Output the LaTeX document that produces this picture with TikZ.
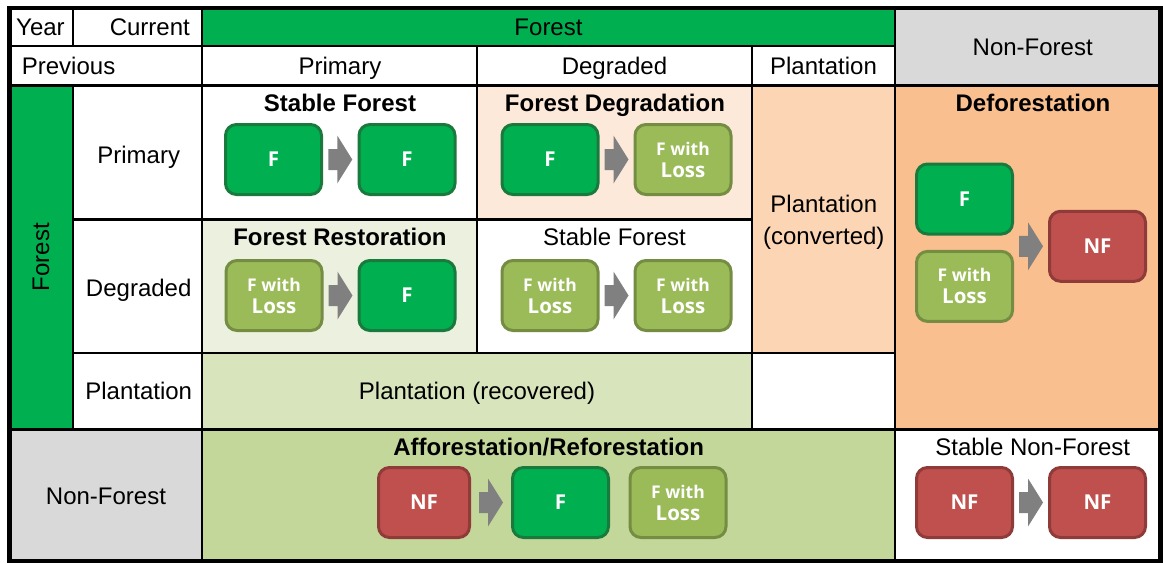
\documentclass[tikz,border=0pt]{standalone}
\usepackage{fontspec}
\setmainfont{Liberation Sans}
\newfontfamily\boxfont{Open Sans}
\usetikzlibrary{calc}
\definecolor{fgreen}{HTML}{00B050}
\definecolor{fgreendark}{HTML}{1A7A3E}
\definecolor{lossgreen}{HTML}{9BBB59}
\definecolor{lossgreendark}{HTML}{748D42}
\definecolor{nfred}{HTML}{C0504D}
\definecolor{nfreddark}{HTML}{8E3B39}
\definecolor{arrowgrey}{HTML}{808080}
\definecolor{headgrey}{HTML}{D9D9D9}
\definecolor{peachA}{HTML}{FDE9D9}
\definecolor{peachB}{HTML}{FCD5B4}
\definecolor{peachC}{HTML}{FABF8F}
\definecolor{oliveA}{HTML}{EBF1DE}
\definecolor{oliveB}{HTML}{D8E4BC}
\definecolor{oliveC}{HTML}{C4D79B}
\newcommand{\withloss}{{\fontsize{17.5}{22}\selectfont F with}\\Loss}
\begin{document}
\begin{tikzpicture}[x=1pt,y=-1pt,
  cell/.style={draw=black, line width=2.3pt},
  lbl/.style={inner sep=0pt, font=\fontsize{24}{29}\selectfont, text height=17.2pt, text depth=0pt},
  title/.style={lbl, font=\bfseries\fontsize{24}{29}\selectfont},
  tbox/.style={rounded corners=11pt, line width=3pt, minimum width=96pt, minimum height=70pt,
    inner sep=0pt, text=white, font=\boxfont\bfseries\fontsize{20.5}{22}\selectfont, align=center},
  fbox/.style={tbox, fill=fgreen, draw=fgreendark},
  lbox/.style={tbox, fill=lossgreen, draw=lossgreendark},
  nbox/.style={tbox, fill=nfred, draw=nfreddark},
  garrow/.pic={\fill[arrowgrey] (-12,-10.5) -- (-3,-10.5) -- (-3,-24) -- (12,0) -- (-3,24) -- (-3,10.5) -- (-12,10.5) -- cycle;}
]
\useasboundingbox (0,0) rectangle (1163,563);
\fill[white] (0,0) rectangle (1163,563);

% header rows
\draw[cell, fill=white] (9.5,8) rectangle (73,46);
\draw[cell, fill=white] (73,8) rectangle (202,46);
\draw[cell, fill=fgreen] (202,8) rectangle (895,46);
\draw[cell, fill=headgrey] (895,8) rectangle (1160.5,85.5);
\draw[cell, fill=white] (9.5,46) rectangle (202,85.5);
\draw[cell, fill=white] (202,46) rectangle (477,85.5);
\draw[cell, fill=white] (477,46) rectangle (752,85.5);
\draw[cell, fill=white] (752,46) rectangle (895,85.5);

% forest rows
\draw[cell, fill=fgreen] (9.5,85.5) rectangle (73,429.5);
\draw[cell, fill=white] (73,85.5) rectangle (202,219.5);
\draw[cell, fill=white] (73,219.5) rectangle (202,353);
\draw[cell, fill=white] (73,353) rectangle (202,429.5);
\draw[cell, fill=white] (202,85.5) rectangle (477,219.5);
\draw[cell, fill=peachA] (477,85.5) rectangle (752,219.5);
\draw[cell, fill=peachB] (752,85.5) rectangle (895,353);
\draw[cell, fill=peachC] (895,85.5) rectangle (1160.5,429.5);
\draw[cell, fill=oliveA] (202,219.5) rectangle (477,353);
\draw[cell, fill=white] (477,219.5) rectangle (752,353);
\draw[cell, fill=oliveB] (202,353) rectangle (752,429.5);
\draw[cell, fill=white] (752,353) rectangle (895,429.5);

% non-forest row
\draw[cell, fill=headgrey] (9.5,429.5) rectangle (202,561);
\draw[cell, fill=oliveC] (202,429.5) rectangle (895,561);
\draw[cell, fill=white] (895,429.5) rectangle (1160.5,561);

% outer frame
\draw[line width=4.5pt] (9.5,8) rectangle (1160.5,561);

% header labels
\node[lbl, anchor=west] (year) at (16,27) {Year};
\node[lbl, anchor=east] (current) at (190,27) {Current};
\node[lbl] (curforest) at (548.5,27) {Forest};
\node[lbl] (curnonforest) at (1032.7,46.5) {Non-Forest};
\node[lbl, anchor=west] (previous) at (21.7,65.5) {Previous};
\node[lbl] (curprimary) at (340,65.5) {Primary};
\node[lbl] (curdegraded) at (614.5,65.5) {Degraded};
\node[lbl] (curplantation) at (823.5,65.5) {Plantation};

% row labels
\node[lbl, rotate=90] (prevforest) at (40.5,257) {Forest};
\node[lbl] (prevprimary) at (138.7,154.5) {Primary};
\node[lbl] (prevdegraded) at (138.7,288) {Degraded};
\node[lbl] (prevplantation) at (138.7,391) {Plantation};
\node[lbl] (prevnonforest) at (106,496) {Non-Forest};

% cell texts
\node[lbl] (plconv1) at (823.8,204) {Plantation};
\node[lbl] (plconv2) at (823.8,235.5) {(converted)};
\node[lbl] (plrec) at (477,391) {Plantation (recovered)};

% stable forest (primary)
\node[title] (t1) at (340,102.5) {Stable Forest};
\node[fbox] (sf1) at (273.5,159.5) {F};
\node[fbox] (sf2) at (407,159.5) {F};
\pic at ($(sf1.east)!0.5!(sf2.west)$) {garrow};

% forest degradation
\node[title] (t2) at (615,102.5) {Forest Degradation};
\node[fbox] (fd1) at (550,159.5) {F};
\node[lbox] (fd2) at (683,159.5) {\withloss};
\pic at ($(fd1.east)!0.5!(fd2.west)$) {garrow};

% forest restoration
\node[title] (t3) at (340,236.7) {Forest Restoration};
\node[lbox] (fr1) at (274,295.5) {\withloss};
\node[fbox] (fr2) at (407,295.5) {F};
\pic at ($(fr1.east)!0.5!(fr2.west)$) {garrow};

% stable forest (degraded)
\node[lbl] (t4) at (614.5,236.7) {Stable Forest};
\node[lbox] (sd1) at (550,295.5) {\withloss};
\node[lbox] (sd2) at (683,295.5) {\withloss};
\pic at ($(sd1.east)!0.5!(sd2.west)$) {garrow};

% deforestation
\node[title] (t5) at (1033,102.5) {Deforestation};
\node[fbox] (df1) at (964.5,199) {F};
\node[lbox] (df2) at (964.5,286.4) {\withloss};
\node[nbox] (df3) at (1097.5,246.3) {NF};
\pic at ($(df1.east |- df3.west)!0.5!(df3.west)$) {garrow};

% afforestation / reforestation
\node[title] (t6) at (548.7,446.5) {Afforestation/Reforestation};
\node[nbox, minimum width=91pt] (af1) at (424,502.5) {NF};
\node[fbox] (af2) at (560.5,502.5) {F};
\node[lbox] (af3) at (678,502.5) {\withloss};
\pic at ($(af1.east)!0.5!(af2.west)$) {garrow};

% stable non-forest
\node[lbl] (t7) at (1032.7,446.5) {Stable Non-Forest};
\node[nbox] (snf1) at (964.5,502.5) {NF};
\node[nbox] (snf2) at (1097.5,502.5) {NF};
\pic at ($(snf1.east)!0.5!(snf2.west)$) {garrow};
\end{tikzpicture}
\end{document}
